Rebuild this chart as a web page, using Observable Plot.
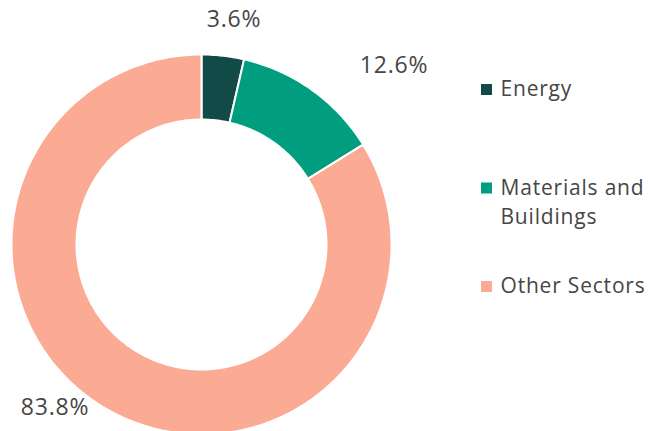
<!DOCTYPE html>
<html>
<head>
<meta charset="utf-8">
<script src="https://cdn.jsdelivr.net/npm/d3@7"></script>
<script src="https://cdn.jsdelivr.net/npm/@observablehq/plot@0.6"></script>
<style>
  html, body { margin: 0; padding: 0; background: #fff; }
  #chart svg { display: block; }
  #chart svg text { letter-spacing: 0.8px; }
</style>
</head>
<body>
<div id="chart"></div>
<script>
// ---- data ----
const categories = ["Energy", "Materials and Buildings", "Other Sectors"];
const shares = [3.6, 12.6, 83.8];
const shareLabels = ["3.6%", "12.6%", "83.8%"];
const legendLines = [["Energy"], ["Materials and", "Buildings"], ["Other Sectors"]];
const colors = ["#124a48", "#009e7e", "#fbaa94"];

// ---- layout ----
const W = 648, H = 431;
const cx = 201, cy = 244;          // donut centre in pixels
const outerR = 190, innerR = 125;
const labelR = 200;
const labelNudge = [[10, -26], [76, -16], [-49, -12]];
const legend = {sqX: 285, txtX: 299, top: 155, step: 98.5, lineGap: 29};
const font = "'Open Sans', sans-serif";
const textColor = "#464646";

const pie = d3.pie().sort(null).value(d => d)(shares);

// slice outlines from pie angles (angle 0 at 12 o'clock, clockwise; y up)
const ringRows = [];
pie.forEach((p, i) => {
  const n = Math.max(8, Math.ceil((p.endAngle - p.startAngle) * 60));
  for (let k = 0; k <= n; k++) {
    const a = p.startAngle + (p.endAngle - p.startAngle) * k / n;
    ringRows.push({cat: categories[i], x: outerR * Math.sin(a), y: outerR * Math.cos(a)});
  }
  for (let k = n; k >= 0; k--) {
    const a = p.startAngle + (p.endAngle - p.startAngle) * k / n;
    ringRows.push({cat: categories[i], x: innerR * Math.sin(a), y: innerR * Math.cos(a)});
  }
});

const labelRows = pie.map((p, i) => {
  const a = (p.startAngle + p.endAngle) / 2;
  return {
    text: shareLabels[i],
    x: labelR * Math.sin(a) + labelNudge[i][0],
    y: labelR * Math.cos(a) - labelNudge[i][1]
  };
});

const legendRows = categories.map((c, i) => ({cat: c, x: legend.sqX, y: legend.top - i * legend.step}));
const legendTextRows = [];
legendLines.forEach((lines, i) => lines.forEach((t, j) => {
  legendTextRows.push({text: t, x: legend.txtX, y: legend.top - i * legend.step - j * legend.lineGap});
}));

const chart = Plot.plot({
  width: W,
  height: H,
  margin: 0,
  x: {domain: [-cx, W - cx], axis: null},
  y: {domain: [cy - H, cy], axis: null},
  color: {domain: categories, range: colors},
  style: {fontFamily: font, background: "#fff"},
  marks: [
    Plot.line(ringRows, {x: "x", y: "y", z: "cat", fill: "cat", stroke: "#fff", strokeWidth: 2, curve: "linear-closed"}),
    Plot.text(labelRows, {x: "x", y: "y", text: "text", fontSize: 23, fill: textColor, textAnchor: "middle"}),
    Plot.dot(legendRows, {x: "x", y: "y", fill: "cat", symbol: "square", r: 6.2, stroke: null}),
    Plot.text(legendTextRows, {x: "x", y: "y", text: "text", fontSize: 21, fill: textColor, textAnchor: "start"})
  ]
});
document.getElementById("chart").appendChild(chart);
</script>
</body>
</html>
